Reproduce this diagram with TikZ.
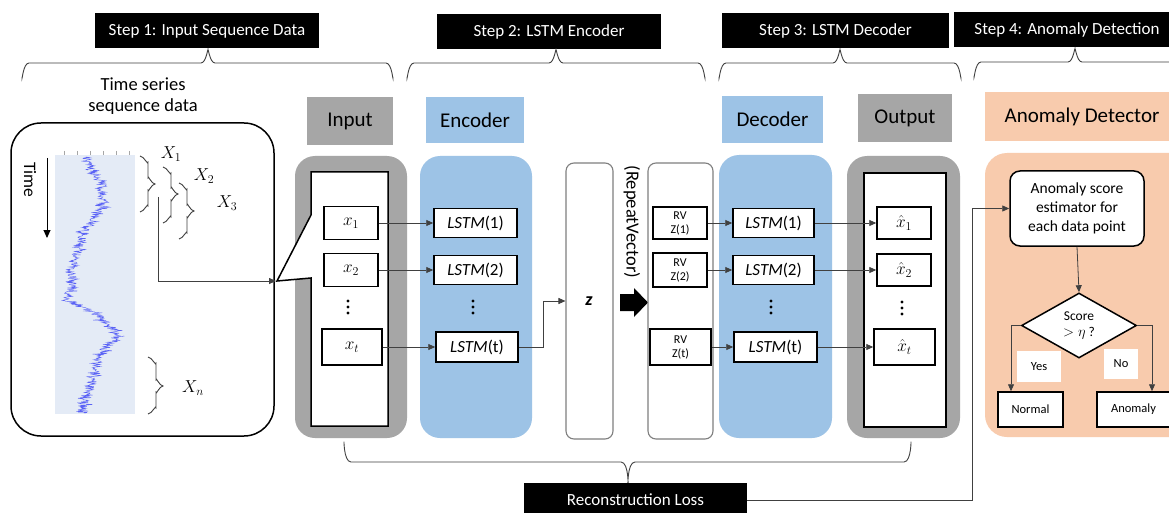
\documentclass[tikz,border=0pt]{standalone}
\usepackage{fontspec}
\setmainfont{Carlito}
\usetikzlibrary{arrows.meta,shapes.geometric}
\definecolor{boxgray}{HTML}{A6A6A6}
\definecolor{boxblue}{HTML}{9DC3E6}
\definecolor{boxpeach}{HTML}{F8CBAD}
\definecolor{plotbg}{HTML}{E4EBF6}
\definecolor{walkblue}{HTML}{5B63F5}
\definecolor{linegray}{HTML}{404040}
\definecolor{bordergray}{HTML}{7F7F7F}
% top brace: x-left, x-tip, x-right, y of horizontal line
\newcommand{\topbrace}[4]{%
  \draw[brc] (#1,#4+14) to[out=270,in=180] (#1+7,#4) -- (#2-7,#4)
    to[out=0,in=90] (#2,#4-12) to[out=90,in=180] (#2+7,#4) -- (#3-7,#4)
    to[out=0,in=270] (#3,#4+14);}
% side brace (opens left, tip right): x of ends, y top, y tip, y bottom
\newcommand{\sidebrace}[4]{%
  \draw[brc] (#1,#2) to[out=0,in=270] (#1+8,#2+6) -- (#1+8,#3-6)
    to[out=90,in=180] (#1+15,#3) to[out=180,in=270] (#1+8,#3+6) -- (#1+8,#4-6)
    to[out=90,in=0] (#1,#4);}
% three vertical dots centred at x, y
\newcommand{\vdotcol}[2]{%
  \foreach \dy in {-6,0,6} \fill[black] (#1,#2+\dy) circle[radius=1.6];}
\begin{document}
\begin{tikzpicture}[x=1pt,y=-1pt,
  banner/.style={fill=black,text=white,inner sep=0,font=\fontsize{17}{20}\selectfont,minimum height=35},
  header/.style={inner sep=0,minimum height=47,font=\fontsize{21}{25}\selectfont},
  panel/.style={inner sep=0,rounded corners=20pt},
  cell/.style={draw=black,line width=1.5pt,fill=white,inner sep=0,minimum height=33,font=\fontsize{17}{20}\selectfont},
  rvcell/.style={draw=black,line width=1.5pt,fill=white,inner sep=0,align=center,font=\fontsize{12}{14}\selectfont},
  slim/.style={draw=bordergray,line width=1.1pt,fill=white,rounded corners=8pt,inner sep=0},
  conn/.style={draw=linegray,line width=0.8pt,-{Triangle[length=7pt,width=6pt]}},
  brc/.style={draw=linegray,line width=0.9pt},
  walk/.style={draw=walkblue,line width=0.45pt},
  mlabel/.style={inner sep=0,font=\fontsize{17}{20}\selectfont},
  small/.style={inner sep=0,font=\fontsize{12.5}{15}\selectfont},
]
\useasboundingbox (0,0) rectangle (1169,513);
\fill[white] (0,0) rectangle (1169,513);
\clip (0,0) rectangle (1169,513);

% ---------- step banners ----------
\node[banner,minimum width=224] (s1) at (207,31) {Step 1: Input Sequence Data};
\node[banner,minimum width=224] (s2) at (549,31.5) {Step 2: LSTM Encoder};
\node[banner,minimum width=227] (s3) at (835.5,30.5) {Step 3: LSTM Decoder};
\node[banner,minimum width=226] (s4) at (1067,29.5) {Step 4: Anomaly Detection};
\topbrace{22}{208}{393}{63}
\topbrace{407}{556}{705}{63}
\topbrace{719}{840}{961}{63}
\topbrace{974}{1075}{1185}{62}

% ---------- step 1: time series ----------
\node[align=center,inner sep=0,font=\fontsize{18.5}{21}\selectfont] (title) at (143,96) {Time series\\sequence data};
\node[draw=black,line width=1.5pt,rounded corners=30pt,minimum width=263,minimum height=313,inner sep=0] (tspanel) at (142.5,279.5) {};
\node[fill=plotbg,minimum width=80,minimum height=259,inner sep=0] (plot) at (95,284.5) {};
\foreach \x in {64,77,90,103,116,129} \draw[gray!70,line width=0.6pt] (\x,151) -- (\x,155);
\pgfmathsetseed{12}
\foreach \ya/\xa/\yb/\xb in {157/86/170/92, 170/92/185/102, 185/102/200/104, 200/104/215/98,
  215/98/228/86, 228/86/240/80, 240/80/255/76, 255/76/270/71, 270/71/285/72, 285/72/300/67,
  300/67/310/88, 310/88/322/106, 322/106/336/118, 336/118/348/105, 348/105/362/97,
  362/97/378/94, 378/94/392/88, 392/88/405/83, 405/83/413/83}{
  \draw[walk] plot[variable=\t,domain=0:1,samples=26]
    ({\xa+(\xb-\xa)*\t+5*rand+10*rand*rand*rand},{\ya+(\yb-\ya)*\t});
}
\node[inner sep=0,rotate=-90,font=\fontsize{17.5}{20}\selectfont] (time) at (30,180) {Time};
\coordinate (tstart) at (47,158);
\coordinate (tend) at (47,238);
\draw[line width=0.9pt,-{Triangle[length=8pt,width=7pt]}] (tstart) -- (tend);

\sidebrace{140}{156}{184}{212}
\sidebrace{163}{167}{194}{223}
\sidebrace{179}{183}{211}{239}
\sidebrace{148}{357}{386}{414}
\node[mlabel] (X1) at (171,154) {$X_1$};
\node[mlabel] (X2) at (204,176) {$X_2$};
\node[mlabel] (X3) at (227,203) {$X_3$};
\node[mlabel] (Xn) at (193,388) {$X_n$};

% ---------- input column ----------
\node[header,fill=boxgray,minimum width=86,minimum height=48] (inlbl) at (350,121) {Input};
\node[panel,fill=boxgray,minimum width=112,minimum height=282] (incont) at (351,297) {};
\draw[line width=1.5pt,fill=white] (311,172) -- (388,172) -- (388,426) -- (311,426) -- (311,278)
  -- (277,281) -- (311,215) -- cycle;
\coordinate (calltip) at (276,281);
\node[cell,minimum width=54] (x1) at (351,223) {$x_1$};
\node[cell,minimum width=54] (x2) at (351,270) {$x_2$};
\vdotcol{348}{307}
\node[cell,minimum width=60,minimum height=36] (xt) at (352,347) {$x_t$};
\coordinate (x1out) at (158,197);
\draw[conn] (x1out) |- (calltip);

% ---------- encoder ----------
\node[header,fill=boxblue,minimum width=98,minimum height=46] (enclbl) at (475,120) {Encoder};
\node[panel,fill=boxblue,minimum width=112,minimum height=282] (enccont) at (476,297) {};
\node[cell,minimum width=83,minimum height=29] (e1) at (475.5,223) {\textit{LSTM}(1)};
\node[cell,minimum width=83,minimum height=29] (e2) at (475.5,270) {\textit{LSTM}(2)};
\vdotcol{473}{307}
\node[cell,minimum width=82,minimum height=30] (et) at (477,347) {\textit{LSTM}(t)};
\draw[conn] (x1.east) -- (e1.west);
\draw[conn] (x2.east) -- (e2.west);
\draw[conn] (xt.east) -- (et.west);

% ---------- latent z ----------
\node[slim,minimum width=47,minimum height=276] (zbox) at (589.5,301) {};
\node[inner sep=0,font=\fontsize{18}{20}\selectfont\bfseries\itshape] (zlbl) at (589,301) {z};
\draw[conn] (et.east) -- ++(25,0) |- (zbox.west);
\node[inner sep=0,rotate=-90,font=\fontsize{18.5}{21}\selectfont] (rvtext) at (632,222) {(RepeatVector)};
\fill[black] (620,294) -- (634,294) -- (634,288) -- (648,302.5) -- (634,317) -- (634,311) -- (620,311) -- cycle;

% ---------- repeat vector ----------
\node[slim,minimum width=65,minimum height=276] (rvcont) at (680.5,301) {};
\node[rvcell,minimum width=54,minimum height=32] (rv1) at (680,223) {RV\\Z(1)};
\node[rvcell,minimum width=54,minimum height=34] (rv2) at (680,270) {RV\\Z(2)};
\node[rvcell,minimum width=61,minimum height=36] (rvt) at (680.5,347) {RV\\Z(t)};

% ---------- decoder ----------
\node[header,fill=boxblue,minimum width=101,minimum height=47] (declbl) at (772.5,119.5) {Decoder};
\node[panel,fill=boxblue,minimum width=113,minimum height=283] (deccont) at (775.5,296.5) {};
\node[cell,minimum width=81,minimum height=29] (d1) at (773.5,223) {\textit{LSTM}(1)};
\node[cell,minimum width=81,minimum height=29] (d2) at (773.5,270) {\textit{LSTM}(2)};
\vdotcol{771}{307}
\node[cell,minimum width=83,minimum height=30] (dt) at (775.5,347) {\textit{LSTM}(t)};
\draw[conn] (rv1.east) -- (d1.west);
\draw[conn] (rv2.east) -- (d2.west);
\draw[conn] (rvt.east) -- (dt.west);

% ---------- output ----------
\node[header,fill=boxgray,minimum width=94,minimum height=48] (outlbl) at (905,118) {Output};
\node[panel,fill=boxgray,minimum width=113,minimum height=282] (outcont) at (903.5,297) {};
\node[draw=black,line width=1.5pt,fill=white,minimum width=82,minimum height=254,inner sep=0] (outinner) at (905,300) {};
\node[cell,minimum width=54,minimum height=32] (o1) at (904,223) {$\hat{x}_1$};
\node[cell,minimum width=54,minimum height=32] (o2) at (904,270) {$\hat{x}_2$};
\vdotcol{902}{308}
\node[cell,minimum width=61,minimum height=36] (ot) at (904.5,347) {$\hat{x}_t$};
\draw[conn] (d1.east) -- (o1.west);
\draw[conn] (d2.east) -- (o2.west);
\draw[conn] (dt.east) -- (ot.west);

% ---------- anomaly detector ----------
\node[header,fill=boxpeach,minimum width=200,minimum height=49] (adlbl) at (1085,117) {};
\node[inner sep=0,font=\fontsize{21}{25}\selectfont] (adtext) at (1082,117) {Anomaly Detector};
\node[panel,fill=boxpeach,rounded corners=22pt,minimum width=210,minimum height=284] (adcont) at (1090,295) {};
\node[draw=black,line width=1.5pt,fill=white,rounded corners=10pt,minimum width=134,minimum height=75,inner sep=0,
  align=center,font=\fontsize{15.5}{19}\selectfont] (est) at (1077,208.5) {Anomaly score\\estimator for\\each data point};
\node[diamond,draw=black,line width=1.5pt,fill=white,aspect=1.77,minimum width=115,minimum height=65,inner sep=0,
  align=center,font=\fontsize{13.5}{16}\selectfont] (dia) at (1079,325.5) {Score\\$>\eta$ ?};
\node[draw=black,line width=1.5pt,fill=white,minimum width=65,minimum height=35,inner sep=0,
  font=\fontsize{12.5}{15}\selectfont] (normal) at (1030.5,409.5) {Normal};
\node[draw=black,line width=1.5pt,fill=white,minimum width=73,minimum height=35,inner sep=0,
  font=\fontsize{12.5}{15}\selectfont] (anom) at (1133.5,409.5) {Anomaly};
\draw[conn] (est.south) -- (dia.north);
\draw[conn] (dia.west) -| ([xshift=-19.5pt]normal.north);
\draw[conn] (dia.east) -| ([xshift=18.5pt]anom.north);
\node[small,fill=white,minimum width=44,minimum height=31] (yes) at (1039,366.5) {Yes};
\node[small,fill=white,minimum width=34,minimum height=30] (no) at (1121,364) {No};

% ---------- reconstruction loss ----------
\draw[brc] (344,443) to[out=90,in=180] (351,462) -- (621,462) to[out=0,in=270] (628,482)
  to[out=270,in=180] (635,462) -- (904,462) to[out=0,in=90] (911,443);
\node[banner,minimum width=223,minimum height=34] (loss) at (635.5,500) {Reconstruction Loss};
\coordinate (lossturn) at (972,208.5);
\draw[conn] (loss.east) -| (lossturn) -- (est.west);
\end{tikzpicture}
\end{document}
